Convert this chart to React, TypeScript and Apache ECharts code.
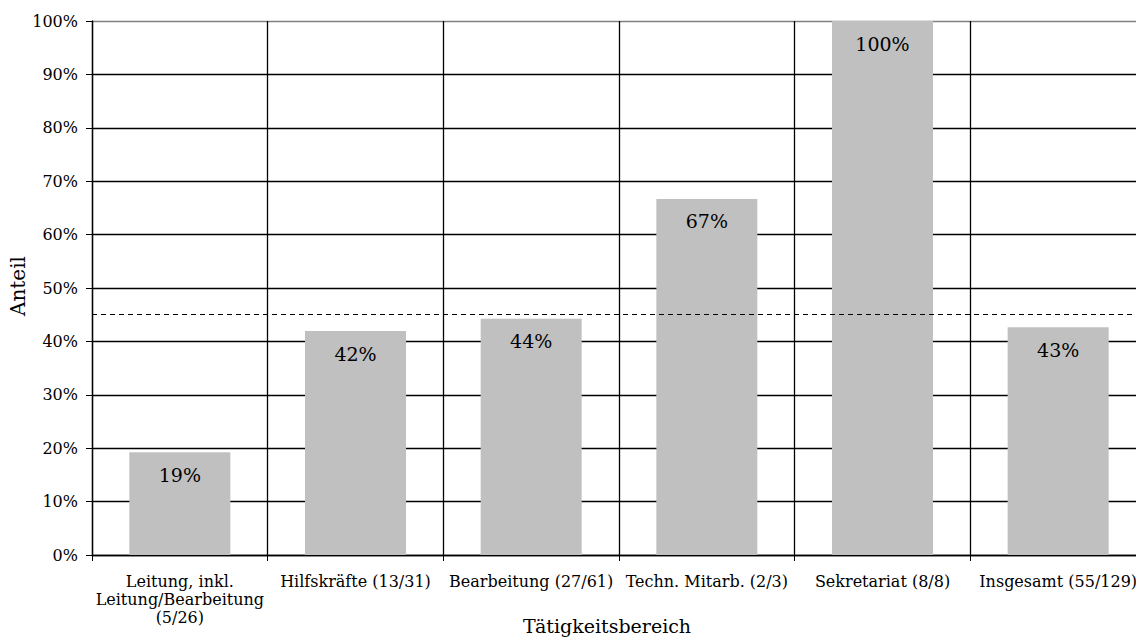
import React, { useEffect, useRef } from "react";
import * as echarts from "echarts";

const categories = [
  "Leitung, inkl.\nLeitung/Bearbeitung\n(5/26)",
  "Hilfskräfte (13/31)",
  "Bearbeitung (27/61)",
  "Techn. Mitarb. (2/3)",
  "Sekretariat (8/8)",
  "Insgesamt (55/129)",
];
const shares = [0.1923, 0.4194, 0.4426, 0.6667, 1.0, 0.4264];
const referenceLine = 0.447;
const yTicks = [0, 0.1, 0.2, 0.3, 0.4, 0.5, 0.6, 0.7, 0.8, 0.9, 1.0];
const xAxisTitle = "Tätigkeitsbereich";
const yAxisTitle = "Anteil";

const FONT = "DejaVu Serif";

export default function App() {
  const ref = useRef<HTMLDivElement>(null);
  useEffect(() => {
    if (!ref.current) return;
    const chart = echarts.init(ref.current, undefined, { renderer: "svg" });
    const splitColors = yTicks.map((_, i) => (i === yTicks.length - 1 ? "#808080" : "#000000"));
    chart.setOption({
      animation: false,
      backgroundColor: "#ffffff",
      textStyle: { fontFamily: FONT, color: "#000" },
      grid: {
        left: 92,
        top: 21,
        width: 1054,
        height: 534,
        containLabel: false,
        outerBoundsMode: "none",
      },
      graphic: [
        {
          type: "text",
          x: 607,
          y: 626,
          style: {
            text: xAxisTitle,
            fontFamily: FONT,
            fontSize: 19,
            fill: "#000",
            align: "center",
            verticalAlign: "middle",
          },
        },
        {
          type: "text",
          x: 18,
          y: 286,
          rotation: Math.PI / 2,
          style: {
            text: yAxisTitle,
            fontFamily: FONT,
            fontSize: 20,
            fill: "#000",
            align: "center",
            verticalAlign: "middle",
          },
        },
      ],
      xAxis: {
        type: "category",
        data: categories,
        boundaryGap: true,
        axisLine: { show: true, lineStyle: { color: "#000", width: 1.3 } },
        axisTick: { show: true, length: 6, interval: 0, lineStyle: { color: "#000" } },
        axisLabel: {
          interval: 0,
          margin: 17,
          fontFamily: FONT,
          fontSize: 16,
          lineHeight: 18,
          color: "#000",
        },
        splitLine: { show: true, interval: 0, lineStyle: { color: "#000", width: 1.3 } },
      },
      yAxis: {
        type: "value",
        min: 0,
        max: 1,
        interval: 0.1,
        axisLine: { show: true, lineStyle: { color: "#000", width: 1.3 } },
        axisTick: { show: true, length: 6, lineStyle: { color: "#000" } },
        axisLabel: {
          margin: 14,
          fontFamily: FONT,
          fontSize: 16,
          color: "#000",
          formatter: (v: number) => Math.round(v * 100) + "%",
        },
        splitLine: { show: true, lineStyle: { color: splitColors, width: 1.3 } },
      },
      series: [
        {
          type: "bar",
          data: shares,
          barWidth: "57.5%",
          itemStyle: { color: "#c0c0c0" },
          label: {
            show: true,
            position: "insideTop",
            distance: 13,
            fontFamily: FONT,
            fontSize: 19,
            color: "#000",
            formatter: (p: any) => Math.round(p.value * 100) + "%",
          },
          markLine: {
            silent: true,
            symbol: "none",
            label: { show: false },
            lineStyle: { color: "#000", type: [5, 4], width: 1.2 },
            data: [{ yAxis: referenceLine }],
          },
        },
      ],
    });
    return () => chart.dispose();
  }, []);
  return (
    <div
      ref={ref}
      style={{ position: "fixed", left: 0, top: 0, width: 1136, height: 638 }}
    />
  );
}
